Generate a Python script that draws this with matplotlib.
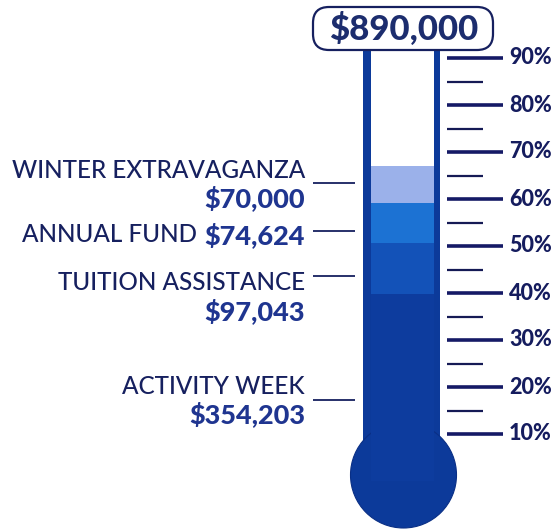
import matplotlib
matplotlib.use("Agg")
import matplotlib.pyplot as plt
import matplotlib.transforms as mtrans
from matplotlib.patches import Rectangle, Ellipse, FancyBboxPatch

# ---------------- data ----------------
goal = 890000
goal_label = "$890,000"
campaigns = ["ACTIVITY WEEK", "TUITION ASSISTANCE", "ANNUAL FUND", "WINTER EXTRAVAGANZA"]
amounts = [354203, 97043, 74624, 70000]
amount_labels = ["$354,203", "$97,043", "$74,624", "$70,000"]
fill_colors = ["#0d3c9e", "#1352b8", "#1c72d3", "#9bb1ea"]
major_ticks = [10, 20, 30, 40, 50, 60, 70, 80, 90]
minor_ticks = [15, 25, 35, 45, 55, 65, 75, 85]
tick_labels = ["10%", "20%", "30%", "40%", "50%", "60%", "70%", "80%", "90%"]

# ---------------- layout ----------------
W, H = 555, 529
PX_PER_PCT = 4.7
ZERO_PX = 481.0           # pixel row (from top) of 0 %


def py(px):
    """pixel row (from top) -> axis units (percent of goal)"""
    return (ZERO_PX - px) / PX_PER_PCT


NAVY = "#16205f"
TUBE = "#0c3a9a"
AMT = "#1f3590"

plt.rcParams["font.family"] = ["Lato", "DejaVu Sans"]

fig = plt.figure(figsize=(W / 100, H / 100), dpi=100)
ax = fig.add_axes([0, 0, 1, 1])
ax.set_xlim(0, W)
ax.set_ylim(py(H), py(0))
ax.axis("off")

# tube outer
tube_l, tube_r = 363, 440
inner_l, inner_r = 371, 434
tube_top = py(50)
ax.add_patch(Rectangle((tube_l, py(480)), tube_r - tube_l, tube_top - py(480),
                       facecolor=TUBE, edgecolor="none", zorder=1))
# tube inner (empty)
ax.add_patch(Rectangle((inner_l, 0), inner_r - inner_l, tube_top - 0,
                       facecolor="white", edgecolor="none", zorder=2))
# bulb
ax.add_patch(Ellipse((403.5, py(475)), 106, 106 / PX_PER_PCT,
                     facecolor=TUBE, edgecolor="#0a2f85", lw=0.8, zorder=1))

# stacked fill
pcts = [a / goal * 100 for a in amounts]
bottoms = [sum(pcts[:i]) for i in range(len(pcts))]
ax.bar((inner_l + inner_r) / 2, pcts, bottom=bottoms, width=inner_r - inner_l,
       color=fill_colors, edgecolor="none", zorder=3)

# goal box
box_l, box_r, box_t, box_b = 313, 493, 7, 50
ax.add_patch(FancyBboxPatch((box_l, py(box_b)), box_r - box_l, py(box_t) - py(box_b),
                            boxstyle="round,pad=0,rounding_size=16",
                            mutation_aspect=1 / PX_PER_PCT,
                            facecolor="white", edgecolor=NAVY, lw=1.6, zorder=4))
ax.text((box_l + box_r) / 2 + 1, py(29), goal_label, ha="center", va="center",
        fontsize=25, fontweight="black", color="#1c2d6e", zorder=5)

# ticks
ax.hlines(major_ticks, 447, 503, color="#151a66", lw=2.6, zorder=3)
ax.hlines(minor_ticks, 447, 483, color="#151a55", lw=1.6, zorder=3)
for t, lab in zip(major_ticks, tick_labels):
    ax.text(509, t, lab, ha="left", va="center", fontsize=15.5,
            fontweight="black", color="#151c5e")

# left labels (layout rows in pixels)
label_x = 305
lead_rows = [400, 276, 231, 183]
name_rows = [386, 282, 235, 171]
amt_rows = [414, 311, 235, 198]
FS = 17.5
FS_AMT = 19.5
fig.canvas.draw()
rend = fig.canvas.get_renderer()
tr = mtrans.blended_transform_factory(mtrans.IdentityTransform(), ax.transData)
for i, (name, amt) in enumerate(zip(campaigns, amount_labels)):
    ax.hlines(py(lead_rows[i]), 313, 355, color=NAVY, lw=1.3)
    t = ax.text(label_x, py(amt_rows[i]), amt, ha="right", va="center",
                fontsize=FS_AMT, fontweight="black", color=AMT)
    if name_rows[i] == amt_rows[i]:
        bb = t.get_window_extent(renderer=rend)
        ax.text(bb.x0 - 7, py(name_rows[i]), name, ha="right", va="center",
                fontsize=FS, fontweight="medium", color=NAVY, transform=tr)
    else:
        ax.text(label_x, py(name_rows[i]), name, ha="right", va="center",
                fontsize=FS, fontweight="medium", color=NAVY)

fig.savefig("out.png", dpi=100)
